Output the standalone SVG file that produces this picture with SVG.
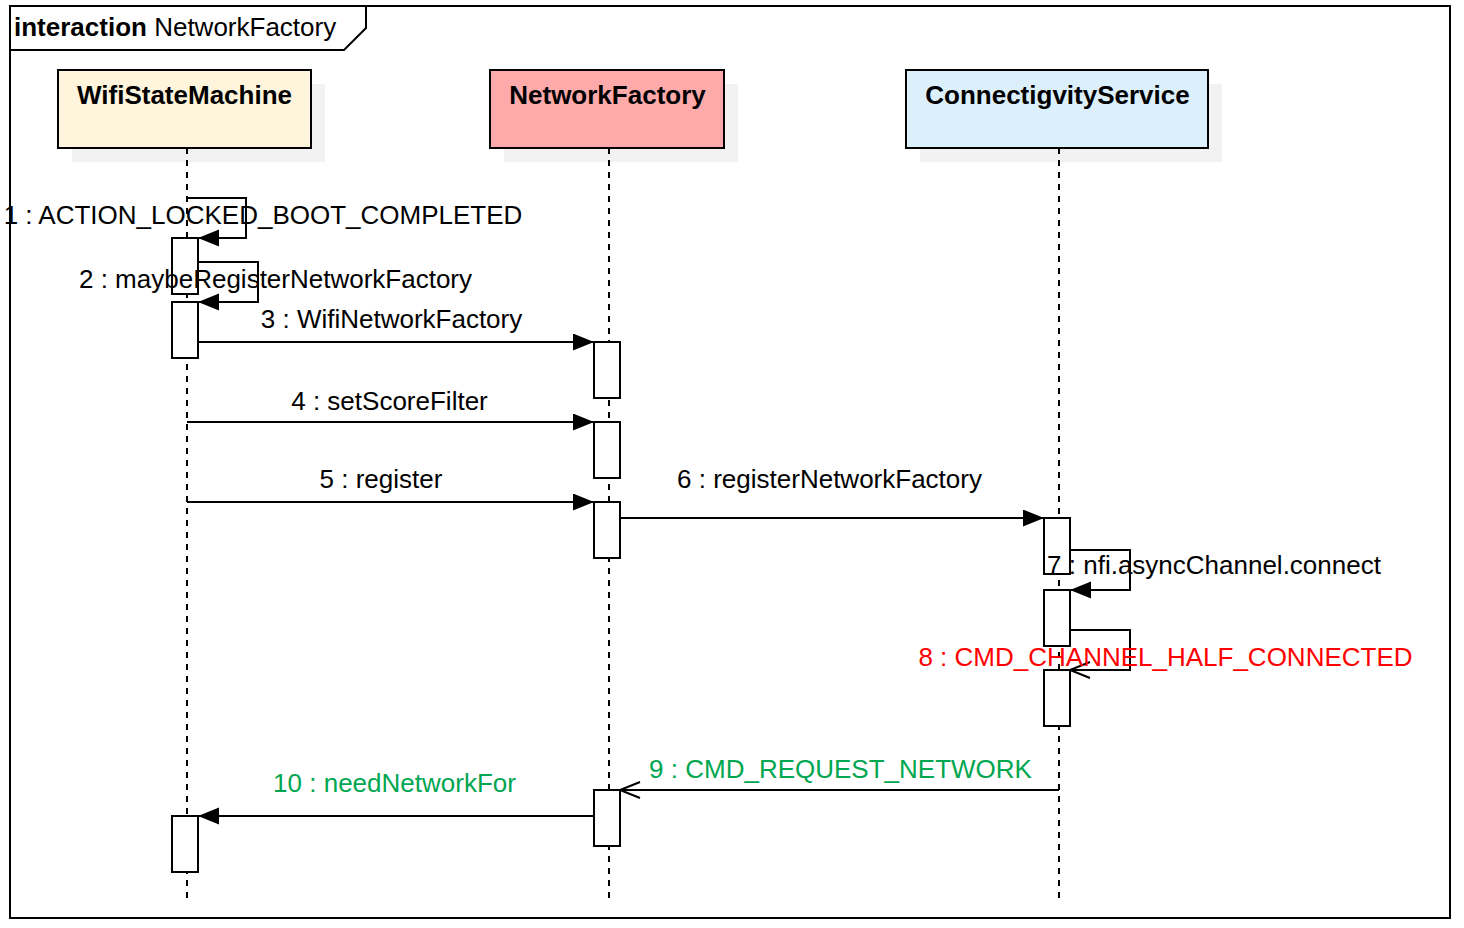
<svg xmlns="http://www.w3.org/2000/svg" width="1464" height="928" viewBox="0 0 1464 928">
<style>
text{font-family:"Liberation Sans",Arial,sans-serif;font-size:26px;fill:#000}
.hdr{font-weight:bold;text-anchor:middle}
.lbl{text-anchor:middle}
.shadow{fill:#f2f2f2;stroke:none}
.head{stroke:#000;stroke-width:2}
.life{stroke:#000;stroke-width:2;stroke-dasharray:6 6;fill:none}
.act{fill:#fff;stroke:#000;stroke-width:2}
.msg{fill:none;stroke:#000;stroke-width:2}
.red{fill:#ff0000}
.green{fill:#00a650}
</style>
<defs>
<marker id="filled" markerWidth="22" markerHeight="18" refX="21" refY="8.5" orient="auto" markerUnits="userSpaceOnUse">
<path d="M0,0 L21,8.5 L0,17 Z" fill="#000"/>
</marker>
<marker id="open" markerWidth="24" markerHeight="20" refX="21" refY="9" orient="auto" markerUnits="userSpaceOnUse">
<path d="M1,1 L21,9 L1,17" fill="none" stroke="#000" stroke-width="2"/>
</marker>
</defs>
<rect width="1464" height="928" fill="#fff"/>
<g id="frame">
<rect x="10" y="6" width="1440" height="912" fill="none" stroke="#000" stroke-width="2"/>
<path d="M10,50 L344,50 L366,28 L366,6" fill="none" stroke="#000" stroke-width="2"/>
<text x="14" y="36"><tspan font-weight="bold">interaction</tspan> NetworkFactory</text>
</g>
<g id="wifistatemachine">
<rect class="shadow" x="72" y="84" width="253" height="78"/>
<rect class="head" x="58" y="70" width="253" height="78" fill="#fff4dc"/>
<text class="hdr" x="184.5" y="104">WifiStateMachine</text>
<line class="life" x1="187" y1="148" x2="187" y2="900"/>
<rect class="act" x="172" y="238" width="26" height="56"/>
<rect class="act" x="172" y="302" width="26" height="56"/>
<rect class="act" x="172" y="816" width="26" height="56"/>
</g>
<g id="networkfactory">
<rect class="shadow" x="504" y="84" width="234" height="78"/>
<rect class="head" x="490" y="70" width="234" height="78" fill="#ffaaaa"/>
<text class="hdr" x="607.5" y="104">NetworkFactory</text>
<line class="life" x1="609" y1="148" x2="609" y2="900"/>
<rect class="act" x="594" y="342" width="26" height="56"/>
<rect class="act" x="594" y="422" width="26" height="56"/>
<rect class="act" x="594" y="502" width="26" height="56"/>
<rect class="act" x="594" y="790" width="26" height="56"/>
</g>
<g id="connectivityservice">
<rect class="shadow" x="920" y="84" width="302" height="78"/>
<rect class="head" x="906" y="70" width="302" height="78" fill="#dcf0fc"/>
<text class="hdr" x="1057.5" y="104">ConnectigvityService</text>
<line class="life" x1="1059" y1="148" x2="1059" y2="900"/>
<rect class="act" x="1044" y="518" width="26" height="56"/>
<rect class="act" x="1044" y="590" width="26" height="56"/>
<rect class="act" x="1044" y="670" width="26" height="56"/>
</g>
<g id="connectors">
<path class="msg" d="M187,198 L246,198 L246,238 L198,238" marker-end="url(#filled)"/>
<path class="msg" d="M198,262 L258,262 L258,302 L198,302" marker-end="url(#filled)"/>
<line class="msg" x1="198" y1="342" x2="594" y2="342" marker-end="url(#filled)"/>
<line class="msg" x1="187" y1="422" x2="594" y2="422" marker-end="url(#filled)"/>
<line class="msg" x1="187" y1="502" x2="594" y2="502" marker-end="url(#filled)"/>
<line class="msg" x1="620" y1="518" x2="1044" y2="518" marker-end="url(#filled)"/>
<path class="msg" d="M1070,550 L1130,550 L1130,590 L1070,590" marker-end="url(#filled)"/>
<path class="msg" d="M1070,630 L1130,630 L1130,670 L1070,670" marker-end="url(#open)"/>
<line class="msg" x1="1059" y1="790" x2="620" y2="790" marker-end="url(#open)"/>
<line class="msg" x1="594" y1="816" x2="198" y2="816" marker-end="url(#filled)"/>
<text class="lbl" x="263" y="224">1 : ACTION_LOCKED_BOOT_COMPLETED</text>
<text class="lbl" x="275.5" y="288">2 : maybeRegisterNetworkFactory</text>
<text class="lbl" x="391.5" y="328">3 : WifiNetworkFactory</text>
<text class="lbl" x="389.5" y="410">4 : setScoreFilter</text>
<text class="lbl" x="381" y="488">5 : register</text>
<text class="lbl" x="829.5" y="488">6 : registerNetworkFactory</text>
<text class="lbl" x="1214" y="574">7 : nfi.asyncChannel.connect</text>
<text class="lbl red" x="1165.5" y="666">8 : CMD_CHANNEL_HALF_CONNECTED</text>
<text class="lbl green" x="840.5" y="778">9 : CMD_REQUEST_NETWORK</text>
<text class="lbl green" x="394.5" y="792">10 : needNetworkFor</text>
</g>
</svg>
